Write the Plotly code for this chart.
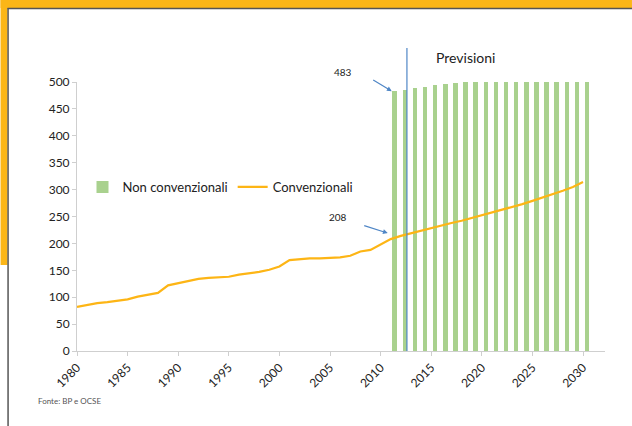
import plotly.graph_objects as go

years_line = list(range(1980, 2031))
conv = [82, 86, 89, 91, 93, 96, 101, 104, 108, 122,
        126, 131, 134, 136, 137, 138, 142, 144, 147, 151,
        157, 169, 171, 172, 172, 173, 174, 177, 185, 188,
        198, 208, 214, 219, 224, 229, 233, 238, 242, 247,
        252, 257, 262, 267, 273, 279, 285, 291, 298, 305, 314]

years_bar = list(range(2011, 2031))
nonconv = [483, 485, 488, 491, 494, 496, 498, 500, 500, 500,
           500, 500, 500, 500, 500, 500, 500, 500, 500, 500]

tick_years = list(range(1980, 2031, 5))
y_ticks = list(range(0, 501, 50))
forecast_year = 2012.6

W, H = 632, 426
L, R, T, B = 76.5, 605, 82, 351
XR = [1980, 1980 + (R - L) / 10.13]

def px(x):
    return (x - L) / (R - L)

def py(y):
    return (B - y) / (B - T)

FONT = "Lato"
ORANGE = "#FBB617"
GREEN = "#A9D18E"
LINE = "#FDB515"
BLUE = "#4F86C6"

fig = go.Figure()
fig.add_trace(go.Bar(x=years_bar, y=nonconv, name="Non convenzionali",
                     marker=dict(color=GREEN, line=dict(width=0)),
                     width=0.45, offset=0.17))
fig.add_trace(go.Scatter(x=years_line, y=conv, name="Convenzionali", mode="lines",
                         line=dict(color=LINE, width=2.2)))

shapes = [
    dict(type="rect", xref="paper", yref="paper", x0=px(0), x1=px(W), y0=py(0), y1=py(8),
         fillcolor=ORANGE, line=dict(width=0), layer="below"),
    dict(type="rect", xref="paper", yref="paper", x0=px(0), x1=px(7), y0=py(0), y1=py(265),
         fillcolor=ORANGE, line=dict(width=0), layer="below"),
    dict(type="line", xref="paper", yref="paper", x0=px(7), x1=px(W), y0=py(8.5), y1=py(8.5),
         line=dict(color="#555555", width=1.5)),
    dict(type="line", xref="paper", yref="paper", x0=px(7.5), x1=px(7.5), y0=py(8), y1=py(H),
         line=dict(color="#555555", width=1.5)),
    dict(type="line", xref="x", yref="paper", x0=forecast_year, x1=forecast_year,
         y0=0, y1=py(48), line=dict(color=BLUE, width=1.2)),
]

annotations = [
    # arrows (no text)
    dict(x=2011, y=483, ax=-20, ay=-12, text="", showarrow=True, arrowhead=2,
         arrowsize=0.8, arrowwidth=1.2, arrowcolor=BLUE, xshift=1),
    dict(x=2011, y=208, ax=-25, ay=-8, text="", showarrow=True, arrowhead=2,
         arrowsize=0.8, arrowwidth=1.2, arrowcolor=BLUE, xshift=-3, yshift=6),
    # labels
    dict(xref="paper", yref="paper", x=px(343), y=py(72), xanchor="center", yanchor="middle",
         text="483", showarrow=False, font=dict(family=FONT, size=10, color="#222")),
    dict(xref="paper", yref="paper", x=px(338), y=py(217), xanchor="center", yanchor="middle",
         text="208", showarrow=False, font=dict(family=FONT, size=10, color="#222")),
    dict(xref="paper", yref="paper", x=px(465), y=py(58), xanchor="center", yanchor="middle",
         text="Previsioni", showarrow=False, font=dict(family=FONT, size=14, color="#222")),
    dict(xref="paper", yref="paper", x=px(35), y=py(401), xanchor="left", yanchor="middle",
         text="Fonte: BP e OCSE", showarrow=False,
         font=dict(family=FONT, size=8, color="#555")),
]

fig.update_layout(
    width=W, height=H,
    margin=dict(l=L, r=W - R, t=T, b=H - B, pad=0),
    paper_bgcolor="white", plot_bgcolor="white",
    font=dict(family=FONT, size=12, color="#222"),
    showlegend=True,
    legend=dict(orientation="h", x=px(82), y=py(187), xanchor="left", yanchor="middle",
                font=dict(family=FONT, size=13, color="#222"), bgcolor="rgba(0,0,0,0)",
                itemwidth=30, tracegroupgap=0),
    shapes=shapes, annotations=annotations, bargap=0,
    xaxis=dict(range=XR, tickmode="array", tickvals=tick_years,
               ticktext=[str(t) for t in tick_years], tickangle=-45,
               showgrid=False, zeroline=False, showline=True, linecolor="#CFCFCF",
               ticks="outside", ticklen=4, tickcolor="#CFCFCF",
               tickfont=dict(family=FONT, size=12, color="#222")),
    yaxis=dict(range=[0, 500], tickvals=y_ticks, showgrid=False, zeroline=False,
               showline=True, linecolor="#CFCFCF", ticks="outside", ticklen=4,
               tickcolor="#CFCFCF", tickfont=dict(family=FONT, size=12, color="#222")),
)

fig.write_html("out.html")
